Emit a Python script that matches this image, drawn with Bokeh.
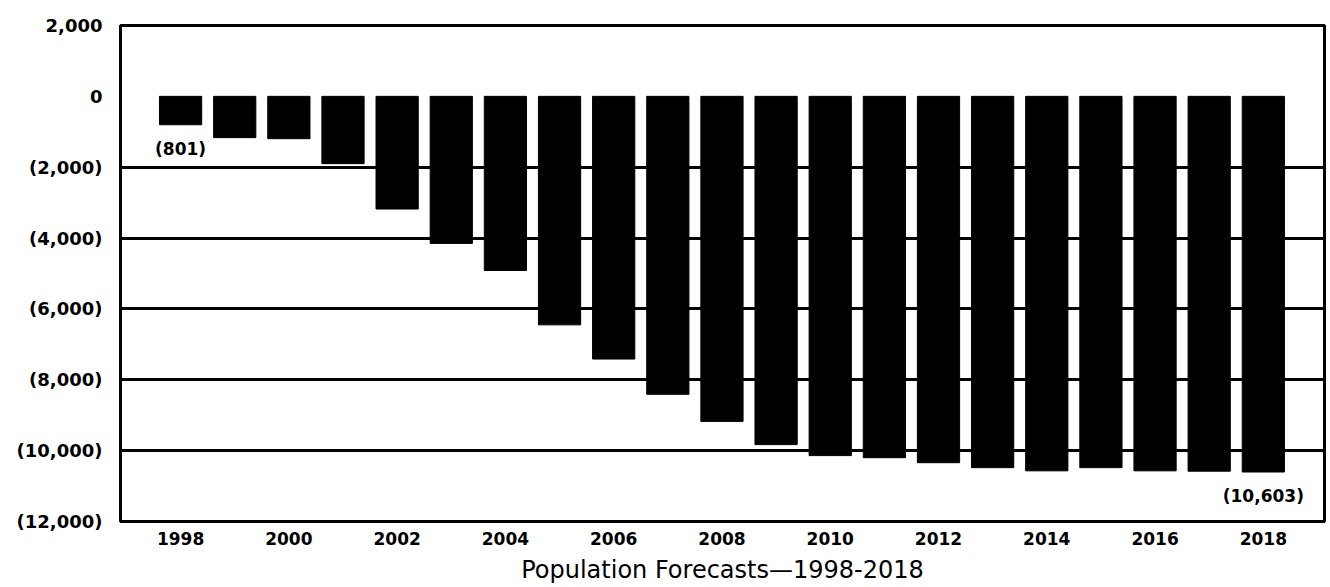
from bokeh.plotting import figure
from bokeh.models import ColumnDataSource, FixedTicker, Range1d
from bokeh.core.properties import value
from bokeh.embed import file_html
from bokeh.resources import INLINE

# ---- data ----
years = list(range(1998, 2019))
change = [-801, -1165, -1195, -1900, -3180, -4150, -4915, -6450, -7415, -8410,
          -9175, -9830, -10140, -10200, -10340, -10480, -10570, -10480, -10570,
          -10580, -10603]
x_ticks = [1998, 2000, 2002, 2004, 2006, 2008, 2010, 2012, 2014, 2016, 2018]
y_ticks = [2000, 0, -2000, -4000, -6000, -8000, -10000, -12000]
y_tick_labels = ["2,000", "0", "(2,000)", "(4,000)", "(6,000)", "(8,000)", "(10,000)", "(12,000)"]
grid_ticks = [-2000, -4000, -6000, -8000, -10000]
label_years = [1998, 2018]
label_values = [-801, -10603]
label_texts = ["(801)", "(10,603)"]
title_text = "Population Forecasts\u20141998-2018"

FONT = "DejaVu Sans"

p = figure(width=1328, height=587, output_backend="svg", toolbar_location=None,
           x_range=Range1d(1996.89, 2019.13), y_range=Range1d(-12000, 2000),
           min_border_left=120, min_border_top=25, min_border_right=4,
           min_border_bottom=66)

src = ColumnDataSource(dict(x=years, top=[0] * len(years), bottom=change))
p.vbar(x="x", top="top", bottom="bottom", width=0.78, source=src,
       fill_color="black", line_color="black")

lab = ColumnDataSource(dict(x=label_years, y=label_values, t=label_texts))
p.text(x="x", y="y", text="t", source=lab, text_align="center", text_baseline="top",
       y_offset=14, text_font=value(FONT), text_font_style="bold",
       text_font_size="17px", text_color="black")

p.outline_line_color = "black"
p.outline_line_width = 3
p.background_fill_color = "white"
p.border_fill_color = "white"

p.xgrid.visible = False
p.ygrid.ticker = FixedTicker(ticks=grid_ticks)
p.ygrid.grid_line_color = "black"
p.ygrid.grid_line_width = 3

p.yaxis.ticker = FixedTicker(ticks=y_ticks)
p.yaxis.major_label_overrides = {t: l for t, l in zip(y_ticks, y_tick_labels)}
p.xaxis.ticker = FixedTicker(ticks=x_ticks)
p.xaxis.major_label_overrides = {t: str(t) for t in x_ticks}

for ax in (p.xaxis[0], p.yaxis[0]):
    ax.axis_line_color = None
    ax.major_tick_line_color = None
    ax.minor_tick_line_color = None
    ax.major_tick_out = 0
    ax.major_tick_in = 0
    ax.minor_tick_out = 0
    ax.major_label_text_font = FONT
    ax.major_label_text_font_style = "bold"
    ax.major_label_text_color = "black"

p.yaxis.major_label_text_font_size = "18px"
p.yaxis.major_label_standoff = 18
p.xaxis.major_label_text_font_size = "17px"
p.xaxis.major_label_standoff = 10

p.xaxis.axis_label = title_text
p.xaxis.axis_label_text_font = FONT
p.xaxis.axis_label_text_font_style = "normal"
p.xaxis.axis_label_text_font_size = "24px"
p.xaxis.axis_label_text_color = "black"
p.xaxis.axis_label_standoff = 8

open("out.html", "w").write(file_html(p, INLINE))
